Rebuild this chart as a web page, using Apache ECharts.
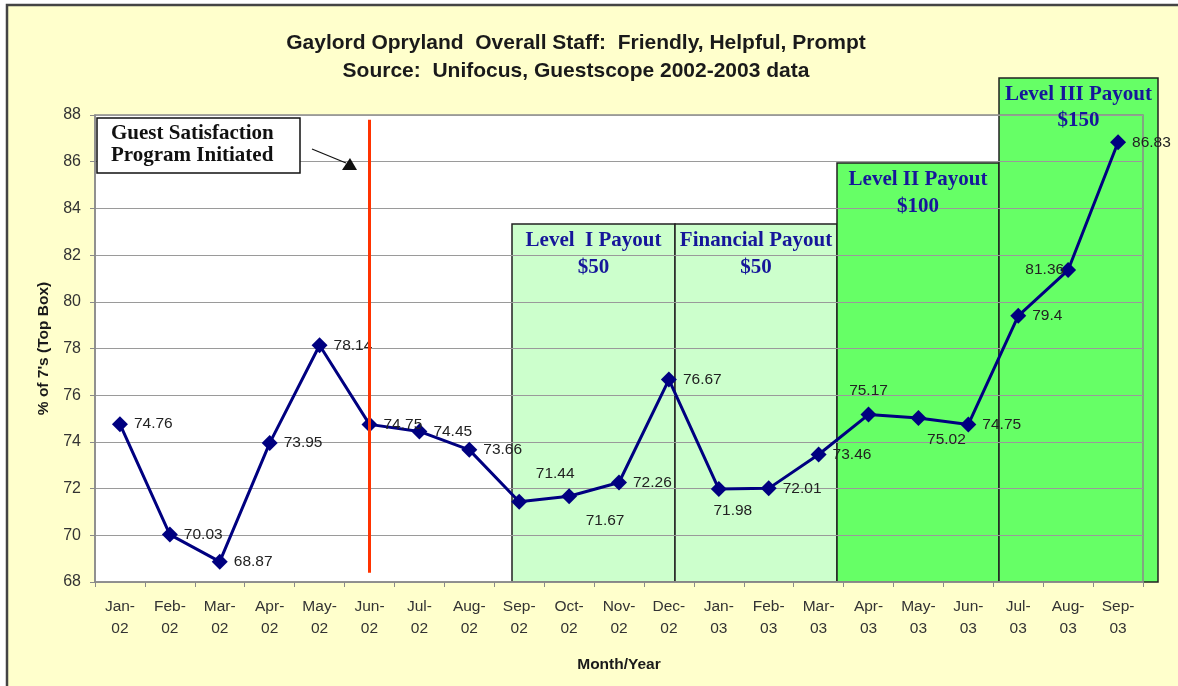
<!DOCTYPE html>
<html>
<head>
<meta charset="utf-8">
<title>Gaylord Opryland Overall Staff</title>
<script src="https://cdn.jsdelivr.net/npm/echarts@6/dist/echarts.min.js"></script>
<style>
  html, body { margin: 0; padding: 0; background: #fff; }
  #chart { width: 1178px; height: 686px; }
</style>
</head>
<body>
<div id="chart"></div>
<script>
// data
const months = ['Jan-02', 'Feb-02', 'Mar-02', 'Apr-02', 'May-02', 'Jun-02', 'Jul-02', 'Aug-02', 'Sep-02', 'Oct-02', 'Nov-02',
  'Dec-02', 'Jan-03', 'Feb-03', 'Mar-03', 'Apr-03', 'May-03', 'Jun-03', 'Jul-03', 'Aug-03', 'Sep-03'];
const staffScores = [74.76, 70.03, 68.87, 73.95, 78.14, 74.75, 74.45, 73.66, 71.44, 71.67, 72.26,
  76.67, 71.98, 72.01, 73.46, 75.17, 75.02, 74.75, 79.4, 81.36, 86.83];
const yTicks = {min: 68, max: 88, step: 2};
const programStart = 'Jun-02';

// label placement like the excel original (index -> label settings)
const labelTweaks = {
  8: {position: 'top', offset: [36, -6]},
  9: {position: 'bottom', offset: [36, 2]},
  12: {position: 'bottom', offset: [14, 0]},
  15: {position: 'top', offset: [0, -2]},
  16: {position: 'bottom', offset: [28, 0]},
  19: {position: 'left', offset: [10, 0]}
};

const seriesData = staffScores.map((v, i) => {
  let item = {value: v}
  if (labelTweaks[i]) item.label = labelTweaks[i]
  return item
})

// plot box (px)
const G = {left: 95, top: 115, right: 1143, bottom: 582};
const boxText = '#16169a';
const serif = '"Liberation Serif", "Times New Roman", serif';

function payoutBox(x1, x2, top, fill, line1, line2, y1, y2) {
  return [
    {
      type: 'rect', z: -1, silent: true,
      shape: {x: x1, y: top, width: x2 - x1, height: G.bottom - top},
      style: {fill: fill, stroke: '#222', lineWidth: 1.5}
    },
    {
      type: 'text', z: 5, silent: true, x: (x1 + x2) / 2, y: y1,
      style: {text: line1, font: 'bold 21px ' + serif, fill: boxText, align: 'center', verticalAlign: 'middle'}
    },
    {
      type: 'text', z: 5, silent: true, x: (x1 + x2) / 2, y: y2,
      style: {text: line2, font: 'bold 21px ' + serif, fill: boxText, align: 'center', verticalAlign: 'middle'}
    }
  ]
}

const graphics = [
  // outer frame
  {
    type: 'rect', z: -3, silent: true,
    shape: {x: 7, y: 5, width: 1200, height: 720},
    style: {fill: '#FFFFCC', stroke: '#444', lineWidth: 2.5}
  },
  // white plot background
  {
    type: 'rect', z: -2, silent: true,
    shape: {x: G.left, y: G.top, width: G.right - G.left, height: G.bottom - G.top},
    style: {fill: '#fff'}
  },
  ...payoutBox(512, 675, 224, '#CCFFCC', 'Level  I Payout', '$50', 241, 268),
  ...payoutBox(675, 837, 224, '#CCFFCC', 'Financial Payout', '$50', 241, 268),
  ...payoutBox(837, 999, 163, '#66FF66', 'Level II Payout', '$100', 180, 207),
  ...payoutBox(999, 1158, 78, '#66FF66', 'Level III Payout', '$150', 95, 121),
  // guest satisfaction note
  {
    type: 'rect', z: 10, silent: true,
    shape: {x: 97, y: 118, width: 203, height: 55},
    style: {fill: '#fff', stroke: '#111', lineWidth: 1.5}
  },
  {
    type: 'text', z: 11, silent: true, x: 111, y: 134,
    style: {text: 'Guest Satisfaction', font: 'bold 21px ' + serif, fill: '#111', verticalAlign: 'middle'}
  },
  {
    type: 'text', z: 11, silent: true, x: 111, y: 156,
    style: {text: 'Program Initiated', font: 'bold 21px ' + serif, fill: '#111', verticalAlign: 'middle'}
  },
  {
    type: 'line', z: 11, silent: true,
    shape: {x1: 312, y1: 149, x2: 346, y2: 163},
    style: {stroke: '#111', lineWidth: 1.2}
  },
  {
    type: 'polygon', z: 11, silent: true,
    shape: {points: [[342, 170], [357, 170], [350, 158]]},
    style: {fill: '#111'}
  }
];

const chart = echarts.init(document.getElementById('chart'));

const option = {
  backgroundColor: '#fff',
  animation: false,
  textStyle: {fontFamily: '"Liberation Sans", Arial, sans-serif'},
  title: {
    text: 'Gaylord Opryland  Overall Staff:  Friendly, Helpful, Prompt\nSource:  Unifocus, Guestscope 2002-2003 data',
    left: 571,
    top: 24,
    textAlign: 'center',
    textStyle: {fontSize: 21, fontWeight: 'bold', color: '#1a1a1a', lineHeight: 28}
  },
  grid: {
    left: G.left, top: G.top, width: G.right - G.left, height: G.bottom - G.top,
    show: true, borderColor: '#8a8a8a', borderWidth: 1.5, backgroundColor: 'transparent'
  },
  xAxis: {
    type: 'category',
    data: months,
    boundaryGap: true,
    name: 'Month/Year',
    nameLocation: 'middle',
    nameGap: 75,
    nameTextStyle: {fontSize: 15.5, fontWeight: 'bold', color: '#1a1a1a'},
    axisLine: {show: true, lineStyle: {color: '#8a8a8a', width: 1.5}},
    axisTick: {show: true, interval: 0, length: 5, lineStyle: {color: '#8a8a8a'}},
    axisLabel: {
      interval: 0, margin: 14, fontSize: 15.5, color: '#333', lineHeight: 22,
      formatter: v => v.replace('-', '-\n')
    },
    splitLine: {show: false}
  },
  yAxis: {
    type: 'value',
    min: yTicks.min,
    max: yTicks.max,
    interval: yTicks.step,
    name: "% of 7's (Top Box)",
    nameLocation: 'middle',
    nameGap: 43,
    nameTextStyle: {fontSize: 15.5, fontWeight: 'bold', color: '#1a1a1a'},
    axisLine: {show: true, lineStyle: {color: '#8a8a8a', width: 1.5}},
    axisTick: {show: true, length: 5, lineStyle: {color: '#8a8a8a'}},
    axisLabel: {fontSize: 16, color: '#333', margin: 14},
    splitLine: {show: true, lineStyle: {color: '#9a9a9a', width: 1}}
  },
  series: [
    {
      name: 'Overall Staff',
      type: 'line',
      data: seriesData,
      symbol: 'diamond',
      symbolSize: 16,
      lineStyle: {color: '#000080', width: 3},
      itemStyle: {color: '#000080'},
      label: {
        show: true, position: 'right', distance: 6,
        fontSize: 15.5, color: '#222'
      },
      markLine: {
        silent: true,
        symbol: 'none',
        label: {show: false},
        lineStyle: {color: '#FF3300', width: 3, type: 'solid'},
        data: [[
          {xAxis: programStart, yAxis: 87.8},
          {xAxis: programStart, yAxis: 68.4}
        ]]
      }
    }
  ],
  graphic: graphics
};

chart.setOption(option);
</script>
</body>
</html>
